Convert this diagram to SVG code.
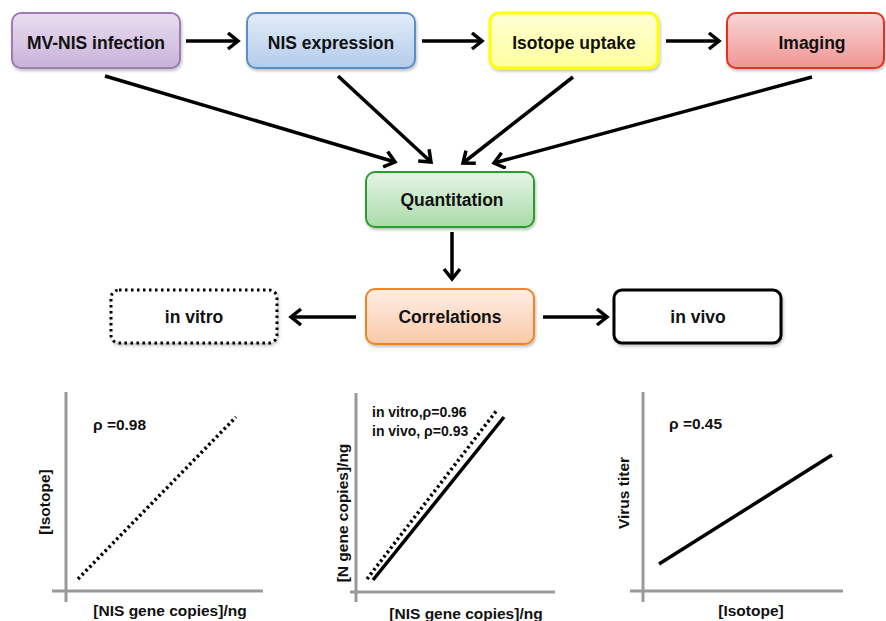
<svg xmlns="http://www.w3.org/2000/svg" width="886" height="621" viewBox="0 0 886 621">
  <style>
    .lbl { font-family: "Liberation Sans", Arial, sans-serif; font-weight: bold; font-size: 17.5px; fill: #111; text-anchor: middle; }
    .ax { font-family: "Liberation Sans", Arial, sans-serif; font-weight: bold; font-size: 15.5px; fill: #111; }
    .ax.small { font-size: 14px; }
    .box { stroke-width: 2; }
    .conn { stroke: #000; stroke-width: 3.5; fill: none; marker-end: url(#head); }
    .axis { stroke: #999; stroke-width: 3; fill: none; }
  </style>
  <defs>
    <marker id="head" markerUnits="userSpaceOnUse" markerWidth="16" markerHeight="20" refX="12" refY="9" orient="auto">
      <path d="M2,1 L12,9 L2,17" fill="none" stroke="#000" stroke-width="3.5" stroke-linejoin="miter"/>
    </marker>
    <filter id="shadow" x="-10%" y="-10%" width="130%" height="140%">
      <feDropShadow dx="1" dy="2" stdDeviation="1.5" flood-color="#000" flood-opacity="0.25"/>
    </filter>
    <linearGradient id="gPurple" x1="0" y1="0" x2="0" y2="1">
      <stop offset="0" stop-color="#e9def0"/>
      <stop offset="1" stop-color="#c8b2d9"/>
    </linearGradient>
    <linearGradient id="gBlue" x1="0" y1="0" x2="0" y2="1">
      <stop offset="0" stop-color="#e2ecf8"/>
      <stop offset="1" stop-color="#b3cbea"/>
    </linearGradient>
    <linearGradient id="gYellow" x1="0" y1="0" x2="0" y2="1">
      <stop offset="0" stop-color="#ffffd6"/>
      <stop offset="1" stop-color="#ffff9e"/>
    </linearGradient>
    <linearGradient id="gRed" x1="0" y1="0" x2="0" y2="1">
      <stop offset="0" stop-color="#f9d6d6"/>
      <stop offset="1" stop-color="#f09494"/>
    </linearGradient>
    <linearGradient id="gGreen" x1="0" y1="0" x2="0" y2="1">
      <stop offset="0" stop-color="#e6f4e6"/>
      <stop offset="1" stop-color="#a9dba9"/>
    </linearGradient>
    <linearGradient id="gOrange" x1="0" y1="0" x2="0" y2="1">
      <stop offset="0" stop-color="#feeee4"/>
      <stop offset="1" stop-color="#f9c9a9"/>
    </linearGradient>
  </defs>

  <!-- process nodes -->
  <g id="mvnis">
    <rect class="box" x="12" y="13" width="168" height="55" rx="9" fill="url(#gPurple)" stroke="#9b7cb6" filter="url(#shadow)"/>
    <text class="lbl" x="96" y="49">MV-NIS infection</text>
  </g>
  <g id="nisexpr">
    <rect class="box" x="247" y="13" width="168" height="55" rx="9" fill="url(#gBlue)" stroke="#5b8dc9" filter="url(#shadow)"/>
    <text class="lbl" x="331" y="49">NIS expression</text>
  </g>
  <g id="uptake">
    <rect x="490" y="13" width="168" height="55" rx="9" fill="url(#gYellow)" stroke="#ffff00" stroke-width="3" filter="url(#shadow)"/>
    <text class="lbl" x="574" y="49">Isotope uptake</text>
  </g>
  <g id="imaging">
    <rect class="box" x="727" y="13" width="157" height="55" rx="9" fill="url(#gRed)" stroke="#e2301e" filter="url(#shadow)"/>
    <text class="lbl" x="812" y="49">Imaging</text>
  </g>
  <g id="quant">
    <rect class="box" x="366" y="172" width="168" height="55" rx="9" fill="url(#gGreen)" stroke="#2b9e2b" filter="url(#shadow)"/>
    <text class="lbl" x="452" y="206">Quantitation</text>
  </g>
  <g id="corr">
    <rect class="box" x="366" y="289" width="168" height="55" rx="9" fill="url(#gOrange)" stroke="#f08424" filter="url(#shadow)"/>
    <text class="lbl" x="450" y="323">Correlations</text>
  </g>
  <g id="invitro">
    <rect x="111" y="290" width="166" height="53" rx="8" fill="#fff" stroke="#000" stroke-width="3" stroke-dasharray="2.5 3.5" filter="url(#shadow)"/>
    <text class="lbl" x="194" y="323">in vitro</text>
  </g>
  <g id="invivo">
    <rect x="614" y="290" width="167" height="53" rx="8" fill="#fff" stroke="#000" stroke-width="3" filter="url(#shadow)"/>
    <text class="lbl" x="698" y="323">in vivo</text>
  </g>

  <!-- connectors -->
  <g id="connectors">
    <line class="conn" x1="186" y1="41" x2="238" y2="41"/>
    <line class="conn" x1="422" y1="41" x2="482" y2="41"/>
    <line class="conn" x1="666" y1="41" x2="719" y2="41"/>
    <line class="conn" x1="105" y1="76" x2="395" y2="162"/>
    <line class="conn" x1="338" y1="76" x2="431" y2="162"/>
    <line class="conn" x1="573" y1="77" x2="463" y2="163"/>
    <line class="conn" x1="812" y1="77" x2="494" y2="163"/>
    <line class="conn" x1="452" y1="232" x2="452" y2="279"/>
    <line class="conn" x1="356" y1="317" x2="291" y2="317"/>
    <line class="conn" x1="543" y1="317" x2="607" y2="317"/>
  </g>

  <!-- chart: isotope vs NIS copies -->
  <g id="chart1">
    <line class="axis" x1="66" y1="392" x2="66" y2="602"/>
    <line class="axis" x1="52" y1="591" x2="263" y2="591"/>
    <line x1="78" y1="579" x2="236" y2="417" stroke="#000" stroke-width="3.5" stroke-dasharray="2.5 3"/>
    <text class="ax" x="93" y="430">ρ =0.98</text>
    <text class="ax" x="0" y="0" text-anchor="middle" transform="translate(50,502) rotate(-90)">[Isotope]</text>
    <text class="ax" x="170" y="616" text-anchor="middle">[NIS gene copies]/ng</text>
  </g>

  <!-- chart: N copies vs NIS copies -->
  <g id="chart2">
    <line class="axis" x1="356" y1="393" x2="356" y2="602"/>
    <line class="axis" x1="350" y1="592" x2="555" y2="592"/>
    <line x1="367" y1="579" x2="497" y2="410" stroke="#000" stroke-width="3.5" stroke-dasharray="2.5 3"/>
    <line x1="373" y1="580" x2="504" y2="417" stroke="#000" stroke-width="3.5"/>
    <text class="ax small" x="372" y="417">in vitro,ρ=0.96</text>
    <text class="ax small" x="372" y="436">in vivo, ρ=0.93</text>
    <text class="ax" x="0" y="0" text-anchor="middle" transform="translate(348,513) rotate(-90)">[N gene copies]/ng</text>
    <text class="ax" x="466" y="619" text-anchor="middle">[NIS gene copies]/ng</text>
  </g>

  <!-- chart: titer vs isotope -->
  <g id="chart3">
    <line class="axis" x1="643" y1="392" x2="643" y2="602"/>
    <line class="axis" x1="630" y1="591" x2="843" y2="591"/>
    <line x1="659" y1="564" x2="832" y2="455" stroke="#000" stroke-width="3.5"/>
    <text class="ax" x="669" y="429">ρ =0.45</text>
    <text class="ax" x="0" y="0" text-anchor="middle" transform="translate(629,493) rotate(-90)">Virus titer</text>
    <text class="ax" x="751" y="616" text-anchor="middle">[Isotope]</text>
  </g>
</svg>
